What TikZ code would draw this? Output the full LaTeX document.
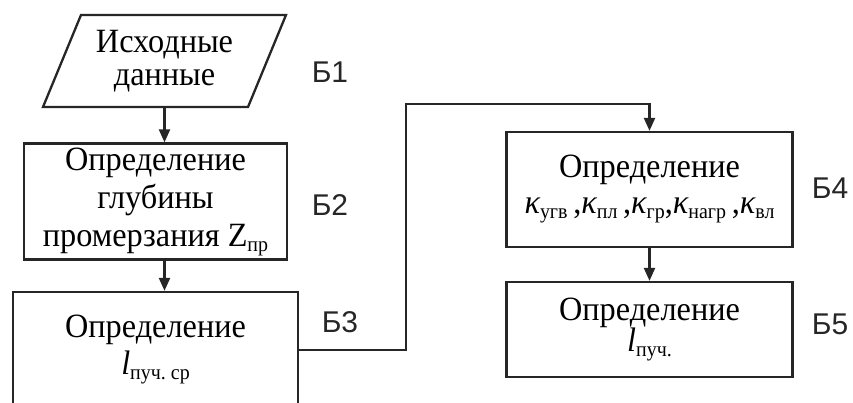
\documentclass[tikz,border=0pt]{standalone}
\usepackage{fontspec}
\setmainfont[FakeStretch=0.95]{Liberation Serif}
\newfontfamily\labfont{Liberation Sans}
\usetikzlibrary{arrows.meta}

% lowered small upright index after a symbol
\newcommand\idx[1]{\raisebox{-0.32ex}{\fontsize{21}{21}\selectfont #1}}

\tikzset{
  blockline/.style={draw=black!85, line width=2.3pt},
  stepbox/.style={blockline, rectangle, inner sep=0pt, align=center,
    font=\fontsize{34}{38}\selectfont},
  arr/.style={draw=black!85, line width=2.3pt,
    -{Triangle[length=13pt,width=11pt]}},
  tag/.style={font=\labfont\fontsize{30}{30}\selectfont, text=black!85}
}

\begin{document}
\begin{tikzpicture}[x=1pt,y=-1pt]
\useasboundingbox (0,0) rectangle (853,403);

% input block: parallelogram drawn round a frame node
\node[rectangle, inner sep=0pt, outer sep=0pt, minimum width=243pt,
  minimum height=92pt, align=center, font=\fontsize{34}{33}\selectfont]
  (b1) at (164.5,61) {Исходные\\данные};
\draw[blockline, line join=miter]
  ([xshift=38pt]b1.north west) -- (b1.north east)
  -- ([xshift=-38pt]b1.south east) -- (b1.south west) -- cycle;

% process blocks
\node[stepbox, minimum width=263pt, minimum height=116pt] (b2) at (155.5,201.5)
  {Определение\\глубины\\промерзания Z\idx{пр}};
\node[stepbox, minimum width=285pt, minimum height=116pt] (b3) at (155.5,350)
  {Определение\\[-1pt]{\itshape l}\idx{пуч.\ ср}};
\node[stepbox, minimum width=286pt, minimum height=115pt] (b4) at (649.5,189.5)
  {Определение\\[-2pt]{\itshape κ}\idx{угв}\,,{\itshape κ}\idx{пл}\,,{\itshape κ}\idx{гр},{\itshape κ}\idx{нагр}\,,{\itshape κ}\idx{вл}};
\node[stepbox, minimum width=286pt, minimum height=95pt] (b5) at (649.5,329.5)
  {Определение\\[-7pt]{\itshape l}\idx{пуч.}};

% block tags
\node[tag] (t1) at (330,72) {Б1};
\node[tag] (t2) at (330,205) {Б2};
\node[tag] (t3) at (340,322) {Б3};
\node[tag] (t4) at (830,188) {Б4};
\node[tag] (t5) at (830,324) {Б5};

% connectors
\coordinate (turn) at (406,104);
\draw[arr] (b1.south) -- (b1.south |- b2.north);
\draw[arr] (b1.south |- b2.south) -- (b1.south |- b3.north);
\draw[arr] (b3.east) -| (turn) -| (b4.north);
\draw[arr] (b4.south) -- (b5.north);
\end{tikzpicture}
\end{document}
